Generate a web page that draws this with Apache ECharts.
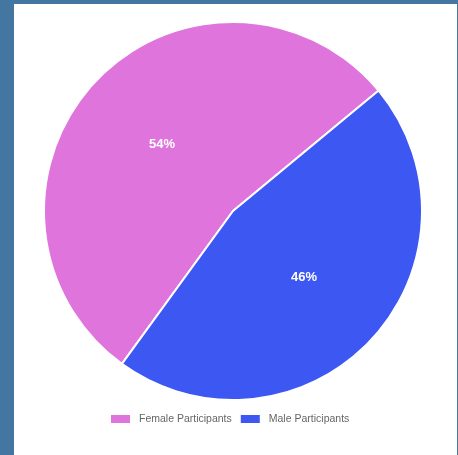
<!DOCTYPE html>
<html><head><meta charset="utf-8">
<script src="https://cdn.jsdelivr.net/npm/echarts@6/dist/echarts.min.js"></script>
<style>
html,body{margin:0;padding:0;background:#4476a2;width:458px;height:455px;overflow:hidden;}
#panel{position:absolute;left:14px;top:4px;width:443px;height:451px;background:#fff;}
#c{position:absolute;left:0;top:0;width:443px;height:451px;}
</style></head><body>
<div id="panel"><div id="c"></div></div>
<script>
const categories = ["Female Participants", "Male Participants"];
const values = [54, 46];
const colors = ["#e074dd", "#3d57f2"];

const chart = echarts.init(document.getElementById('c'), null, {renderer:'canvas'});
chart.setOption({
  animation:false,
  color: colors,
  legend: {
    top: 409, left: 95, padding: 0,
    itemWidth: 21, itemHeight: 10, itemGap: 7,
    icon: 'rect',
    textStyle: {color:'#666', fontSize:10.5, padding:[0,0,0,3], fontFamily:'Liberation Sans, Arial, sans-serif'},
    data: categories
  },
  series: [{
    type: 'pie',
    center: [219, 207],
    radius: 189,
    startAngle: 234,
    clockwise: true,
    itemStyle: {borderColor:'#fff', borderWidth:2},
    label: {
      show: true, position: 'inside',
      formatter: p => p.value + '%',
      color: '#fff', fontSize: 13, fontWeight: 'bold',
      fontFamily: 'Liberation Sans, Arial, sans-serif'
    },
    labelLine: {show:false},
    emphasis: {disabled:true},
    data: categories.map((n,i)=>({name:n, value:values[i]}))
  }]
});
</script>
</body></html>
